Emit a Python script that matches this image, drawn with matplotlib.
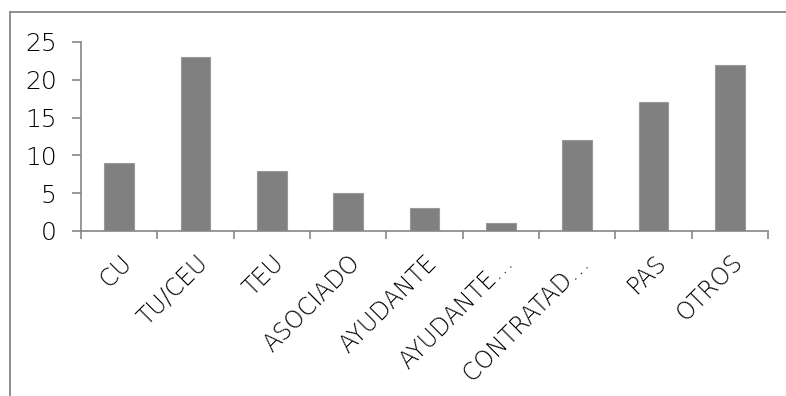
import matplotlib
matplotlib.use("Agg")
import matplotlib.pyplot as plt
import matplotlib.transforms as mtransforms
from matplotlib.lines import Line2D

categorias = ["CU", "TU/CEU", "TEU", "ASOCIADO", "AYUDANTE", "AYUDANTE…",
              "CONTRATAD…", "PAS", "OTROS"]
valores = [9, 23, 8, 5, 3, 1, 12, 17, 22]
ticks_y = [0, 5, 10, 15, 20, 25]

gris_eje = "#868686"
gris_barra = "#808080"

plt.rcParams["font.family"] = ["DejaVu Sans"]
plt.rcParams["font.weight"] = 200

fig = plt.figure(figsize=(7.86, 3.96), dpi=100)
ax = fig.add_axes([81 / 786, 165 / 396, (768 - 81) / 786, (354 - 165) / 396])

x = range(len(categorias))
ax.bar(x, valores, width=0.39, color=gris_barra, edgecolor="#999999", linewidth=0.8)

ax.set_xlim(-0.5, len(categorias) - 0.5)
ax.set_ylim(0, 25)
ax.set_yticks(ticks_y)
ax.set_yticklabels([str(v) for v in ticks_y], fontsize=18)

# marcas del eje x entre categorias
ax.set_xticks([i - 0.5 for i in range(len(categorias) + 1)])
ax.set_xticklabels([])
ax.set_xticks(list(x), minor=True)
ax.set_xticklabels(categorias, minor=True, rotation=45, ha="right", va="top",
                   rotation_mode="anchor", fontsize=17)
desplaza = mtransforms.ScaledTranslation(-5 / 72, 0, fig.dpi_scale_trans)
for etiqueta in ax.xaxis.get_minorticklabels():
    etiqueta.set_transform(etiqueta.get_transform() + desplaza)
ax.tick_params(axis="x", which="minor", length=0, pad=14)
ax.tick_params(axis="x", which="major", length=6, width=1.2, color=gris_eje)
ax.tick_params(axis="y", length=6.5, width=1.2, color=gris_eje, pad=11)

for lado in ("top", "right"):
    ax.spines[lado].set_visible(False)
for lado in ("left", "bottom"):
    ax.spines[lado].set_color(gris_eje)
    ax.spines[lado].set_linewidth(1.2)

# borde del area del grafico
fig.add_artist(Line2D([10 / 786, 1], [1 - 12 / 396] * 2, transform=fig.transFigure,
                      color=gris_eje, lw=1.3))
fig.add_artist(Line2D([10 / 786] * 2, [0, 1 - 12 / 396], transform=fig.transFigure,
                      color=gris_eje, lw=1.3))

fig.savefig("out.png", dpi=100)
